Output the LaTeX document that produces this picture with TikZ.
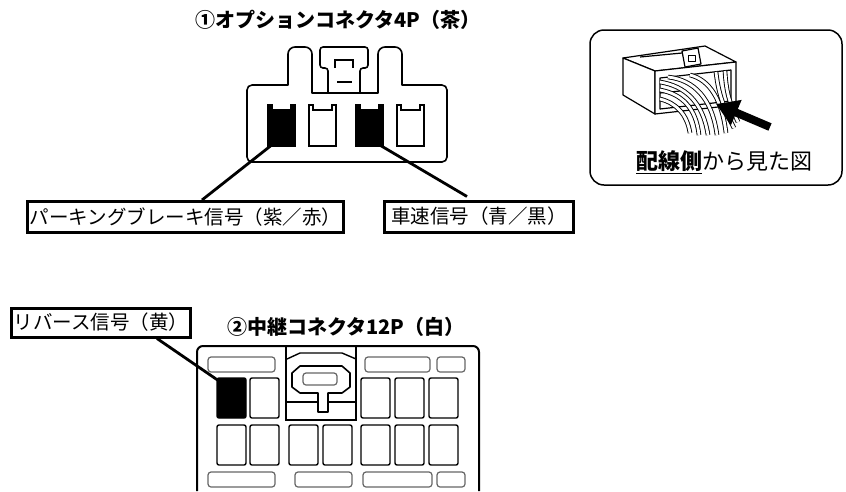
\documentclass[tikz,border=0pt]{standalone}
\usepackage{fontspec}
\setmainfont{Noto Sans CJK JP}
\usetikzlibrary{arrows.meta}
\tikzset{
  labelbox/.style={draw,line width=3pt,inner sep=0pt,font=\fontsize{19.5}{19.5}\selectfont},
  titletext/.style={font=\bfseries\fontsize{20}{20}\selectfont},
  lead/.style={line width=2.8pt},
  body/.style={line width=1.6pt,line join=round},
  cav/.style={draw,line width=1.4pt,rounded corners=2pt},
  slot/.style={draw=black!60,line width=1.2pt,rounded corners=3pt},
  wire/.style={line width=0.9pt,double=white,double distance=2.8pt}
}
\begin{document}
\begin{tikzpicture}[x=1pt,y=-1pt]
  \useasboundingbox (0,0) rectangle (846,491);
  \node[titletext] (t1) at (338,20) {①オプションコネクタ4P（茶）};
  \draw[body] (347,162) [rounded corners=5pt] -- (247,162) -- (247,85) [sharp corners] -- (288,85)
    [rounded corners=7pt] -- (288,47) -- (312,47) [sharp corners] -- (312,93) -- (378,93)
    [rounded corners=7pt] -- (378,47) -- (402,47) [sharp corners] -- (402,85)
    [rounded corners=5pt] -- (447,85) -- (447,162) -- cycle;
  \draw[body,rounded corners=3pt] (328,93) -- (328,68) -- (320,68) -- (320,47) -- (368,47) -- (368,68) -- (360,68) -- (360,93);
  \draw[line width=1.2pt] (335,68) -- (335,60) -- (353,60) -- (353,68);
  \draw[line width=1.2pt] (337,82) -- (352,82);
  \foreach \x/\c in {268/black,309/white,356/black,397/white}
    \filldraw[fill=\c,line width=1.4pt] (\x,105) -- ++(4,0) -- ++(0,5) -- ++(19,0) -- ++(0,-5) -- ++(4,0) -- ++(0,41) -- ++(-27,0) -- cycle;
  \coordinate (p1) at (273,144);
  \coordinate (p3) at (378,144);
  \node[labelbox,minimum width=316pt,minimum height=31pt] (park) at (185.5,217) {パーキングブレーキ信号（紫／赤）};
  \node[labelbox,minimum width=189pt,minimum height=31pt] (speed) at (479,216.5) {車速信号（青／黒）};
  \draw[lead] (p1) -- ([xshift=16.5pt]park.north);
  \draw[lead] (p3) -- ([xshift=-12pt,yshift=3pt]speed.north);
  \draw[line width=1.5pt,rounded corners=14pt] (590,30) rectangle (842,185);
  \begin{scope}[line width=1.2pt,line join=round]
    \filldraw[fill=white] (623,58) -- (705,46) -- (736,62) -- (655,71) -- cycle;
    \filldraw[fill=white] (623,58) -- (655,71) -- (655,114) -- (623,95) -- cycle;
    \filldraw[fill=white] (655,71) -- (736,62) -- (736,105) -- (655,114) -- cycle;
    \draw (660,78) -- (731,70) -- (731,101) -- (660,109) -- cycle;
    \draw (660,93) -- (680,91);
    \draw (640,57) -- (682,53);
    \filldraw[fill=white] (682,51) -- (698,48) -- (701,64) -- (685,67) -- cycle;
    \draw[line width=0.8pt] (688,55) rectangle (695,61);
  \end{scope}
  \draw[wire] (660,82) .. controls (685,86) and (703,102) .. (708,135);
  \draw[wire] (660,90) .. controls (682,94) and (696,108) .. (699,135);
  \draw[wire] (660,99) .. controls (676,103) and (687,114) .. (690,133);
  \draw[wire] (668,77) .. controls (694,80) and (712,98) .. (717,135);
  \draw[wire] (690,75) .. controls (710,80) and (722,100) .. (726,133);
  \draw[wire] (716,72) .. controls (718,90) and (722,105) .. (734,128);
  \draw[wire] (725,71) .. controls (726,88) and (728,100) .. (738,122);
  \coordinate (tail) at (770,127);
  \coordinate (head) at (716,104);
  \draw[line width=8pt,-{Triangle[length=22pt,width=26pt]}] (tail) -- (head);
  \node[font=\fontsize{22}{22}\selectfont] (view) at (724,162) {\underline{\textbf{配線側}}から見た図};
  \node[titletext] (t2) at (346,327) {②中継コネクタ12P（白）};
  \node[labelbox,minimum width=179pt,minimum height=29pt] (rev) at (101,322.5) {リバース信号（黄）};
  \coordinate (q1) at (219,381);
  \draw[lead] ([xshift=56pt]rev.south) -- (q1);
  \draw[line width=2pt,rounded corners=6pt] (197,491) -- (197,346) -- (479,346) -- (479,491);
  \draw[line width=1.6pt] (286,346) -- (286,420) -- (356,420) -- (356,346);
  \draw[line width=1.4pt] (287,359) -- (300,353) -- (342,353) -- (356,359);
  \draw[body] (300,366) -- (342,366) -- (350,373) -- (350,387) -- (342,393) -- (328,393) -- (328,412) -- (318,412) -- (318,393) -- (300,393) -- (292,387) -- (292,373) -- cycle;
  \draw[slot] (303,373) rectangle (337,385);
  \draw[line width=1.4pt] (286,402) -- (318,402) (328,402) -- (356,402);
  \foreach \x in {250,361,395,429}
    \draw[cav] (\x,378) rectangle ++(29,40);
  \filldraw[cav,fill=black] (217,378) rectangle ++(29,40);
  \foreach \x in {217,250,289,323,361,395,429}
    \draw[cav] (\x,425) rectangle ++(29,40);
  \foreach \a/\b in {208/275,365/430,437/465}
    \draw[slot] (\a,357) rectangle (\b,372);
  \foreach \a/\b in {208/275,295/352,363/432,437/465}
    \draw[slot] (\a,472) rectangle (\b,487);
\end{tikzpicture}
\end{document}
